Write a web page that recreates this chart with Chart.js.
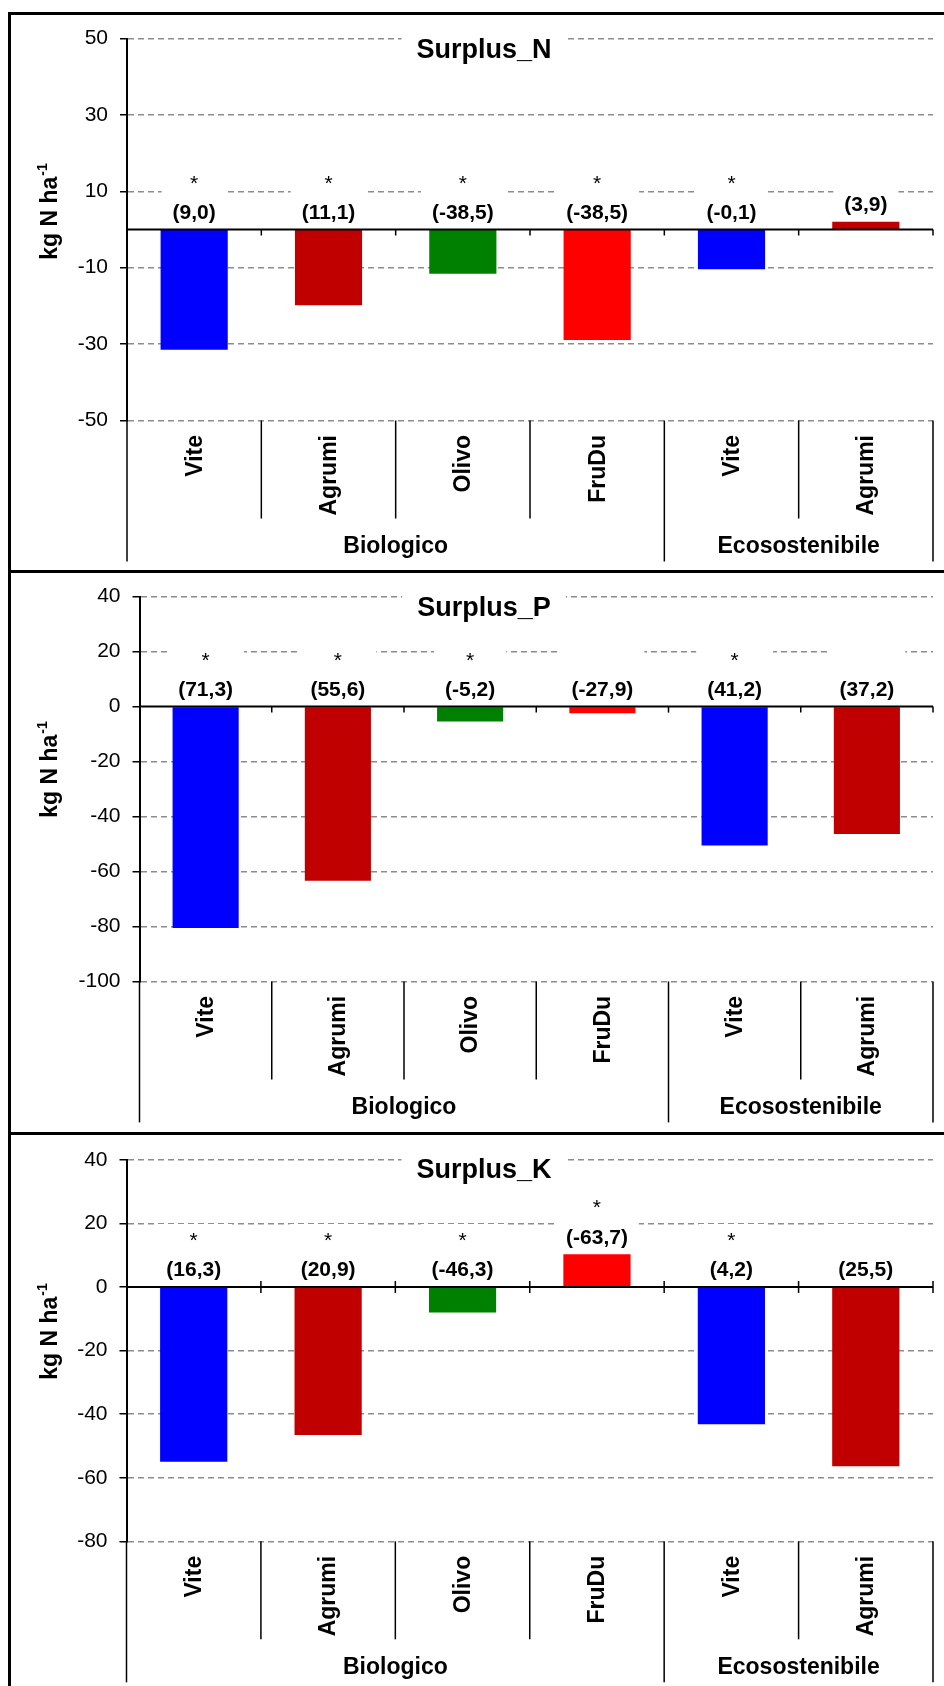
<!DOCTYPE html>
<html>
<head>
<meta charset="utf-8">
<title>Surplus N, P, K</title>
<script src="https://cdn.jsdelivr.net/npm/chart.js@4.4.1/dist/chart.umd.min.js"></script>
<style>
  html, body { margin: 0; padding: 0; background: #fff; overflow: hidden; }
  body { position: relative; width: 944px; height: 1686px; }
  .panel { position: absolute; left: 0; width: 944px; }
  .frame { position: absolute; left: 8px; width: 1000px; border: 3px solid #000; box-sizing: border-box; pointer-events: none; }
</style>
</head>
<body>
<canvas id="chartN" class="panel" width="944" height="558" style="top:13px"></canvas>
<canvas id="chartP" class="panel" width="944" height="562" style="top:571px"></canvas>
<canvas id="chartK" class="panel" width="944" height="553" style="top:1133px"></canvas>
<div class="frame" style="top:12px;height:561px"></div>
<div class="frame" style="top:570px;height:565px"></div>
<div class="frame" style="top:1132px;height:600px"></div>
<script>
const categories = ['Vite', 'Agrumi', 'Olivo', 'FruDu', 'Vite', 'Agrumi'];
const groups = ['Biologico', 'Ecosostenibile'];
const groupSizes = [4, 2];
const barColors = ['#0000FF', '#C00000', '#008000', '#FF0000', '#0000FF', '#C00000'];

const surplusN = [-31.5, -19.8, -11.6, -28.9, -10.4, 2.0];
const surplusP = [-80.6, -63.4, -5.4, -2.4, -50.5, -46.4];
const surplusK = [-55.0, -46.6, -8.0, 10.3, -43.2, -56.4];

const labelsN = ['(9,0)', '(11,1)', '(-38,5)', '(-38,5)', '(-0,1)', '(3,9)'];
const labelsP = ['(71,3)', '(55,6)', '(-5,2)', '(-27,9)', '(41,2)', '(37,2)'];
const labelsK = ['(16,3)', '(20,9)', '(-46,3)', '(-63,7)', '(4,2)', '(25,5)'];

const starsN = [true, true, true, true, true, false];
const starsP = [true, true, true, false, true, false];
const starsK = [true, true, true, true, true, false];

const ticksN = [-50, -30, -10, 10, 30, 50];
const ticksP = [-100, -80, -60, -40, -20, 0, 20, 40];
const ticksK = [-80, -60, -40, -20, 0, 20, 40];

const FONT = '"Liberation Sans", Arial, sans-serif';

// draws everything Excel puts around the bars: zero line, separators, labels, titles
const panelDecor = {
  id: 'panelDecor',
  beforeDatasetsDraw: function (chart, args, opts) {
    const ctx = chart.ctx;
    const x = chart.scales.x;
    const y = chart.scales.y;
    const zero = y.getPixelForValue(0);
    ctx.save();
    ctx.font = 'bold 21px ' + FONT;
    ctx.fillStyle = '#fff';
    opts.labels.forEach(function (text, i) {
      const xc = x.getPixelForValue(i);
      const top = Math.min(zero, y.getPixelForValue(opts.values[i]));
      const ly = top - 18;
      const w = ctx.measureText(text).width + 22;
      ctx.fillRect(xc - w / 2, ly - 45, w, 57);
    });
    ctx.restore();
  },
  afterDatasetsDraw: function (chart, args, opts) {
    const ctx = chart.ctx;
    const area = chart.chartArea;
    const x = chart.scales.x;
    const y = chart.scales.y;
    const zero = y.getPixelForValue(0);
    const step = x.getPixelForValue(1) - x.getPixelForValue(0);
    const bounds = [];
    for (let k = 0; k <= categories.length; k++) {
      bounds.push(x.getPixelForValue(0) - step / 2 + k * step);
    }
    const groupEdges = [0];
    groupSizes.forEach(function (n) { groupEdges.push(groupEdges[groupEdges.length - 1] + n); });

    ctx.save();
    ctx.strokeStyle = '#000';

    // zero line with its tick marks
    ctx.lineWidth = 2;
    ctx.beginPath();
    ctx.moveTo(area.left, zero);
    ctx.lineTo(area.right, zero);
    ctx.stroke();
    ctx.lineWidth = 1.5;
    for (let k = 1; k < bounds.length; k++) {
      ctx.beginPath();
      ctx.moveTo(bounds[k], opts.crossTicks ? zero - 6 : zero);
      ctx.lineTo(bounds[k], zero + 6);
      ctx.stroke();
    }

    // separators under the plot
    bounds.forEach(function (bx, k) {
      const len = groupEdges.indexOf(k) >= 0 ? 141 : 98;
      ctx.beginPath();
      ctx.moveTo(bx, area.bottom);
      ctx.lineTo(bx, area.bottom + len);
      ctx.stroke();
    });

    // value labels and stars
    ctx.fillStyle = '#000';
    ctx.textAlign = 'center';
    ctx.textBaseline = 'alphabetic';
    opts.labels.forEach(function (text, i) {
      const xc = x.getPixelForValue(i);
      const top = Math.min(zero, y.getPixelForValue(opts.values[i]));
      const ly = top - 18;
      ctx.font = 'bold 21px ' + FONT;
      ctx.fillText(text, xc, ly + 7.5);
      if (opts.stars[i]) {
        ctx.font = '21px ' + FONT;
        ctx.fillText('*', xc, ly - 34 + 12);
      }
    });

    // rotated category labels
    ctx.font = 'bold 23px ' + FONT;
    ctx.textAlign = 'right';
    ctx.textBaseline = 'middle';
    categories.forEach(function (name, i) {
      ctx.save();
      ctx.translate(x.getPixelForValue(i) + 1, area.bottom + 14.5);
      ctx.rotate(-Math.PI / 2);
      ctx.fillText(name, 0, 0);
      ctx.restore();
    });

    // group labels
    ctx.font = 'bold 23px ' + FONT;
    ctx.textAlign = 'center';
    groups.forEach(function (name, g) {
      const cx = (bounds[groupEdges[g]] + bounds[groupEdges[g + 1]]) / 2;
      ctx.fillText(name, cx, area.bottom + 126);
    });

    // y axis title with superscript
    ctx.save();
    ctx.translate(57, 199);
    ctx.rotate(-Math.PI / 2);
    ctx.textAlign = 'left';
    ctx.textBaseline = 'alphabetic';
    ctx.font = 'bold 23px ' + FONT;
    const main = 'kg N ha';
    const mainW = ctx.measureText(main).width;
    ctx.font = 'bold 14px ' + FONT;
    const supW = ctx.measureText('-1').width;
    const start = -(mainW + supW) / 2;
    ctx.font = 'bold 23px ' + FONT;
    ctx.fillText(main, start, 0);
    ctx.font = 'bold 14px ' + FONT;
    ctx.fillText('-1', start + mainW + 1, -10);
    ctx.restore();

    // chart title on a white box
    ctx.font = 'bold 27px ' + FONT;
    ctx.textAlign = 'center';
    ctx.textBaseline = 'alphabetic';
    const tw = ctx.measureText(opts.title).width + 30;
    ctx.fillStyle = '#fff';
    ctx.fillRect(484 - tw / 2, 18, tw, 36);
    ctx.fillStyle = '#000';
    ctx.fillText(opts.title, 484, 44.5);

    ctx.restore();
  }
};

function makePanel(canvasId, title, values, labels, stars, ticks, layout) {
  return new Chart(document.getElementById(canvasId), {
    type: 'bar',
    data: {
      labels: categories,
      datasets: [{
        data: values,
        backgroundColor: barColors,
        borderWidth: 0,
        barPercentage: 0.5,
        categoryPercentage: 1
      }]
    },
    options: {
      responsive: false,
      maintainAspectRatio: false,
      devicePixelRatio: 1,
      animation: false,
      layout: {
        padding: { top: layout.padTop, bottom: layout.padBottom, left: 0, right: 11 }
      },
      plugins: {
        legend: { display: false },
        tooltip: { enabled: false },
        panelDecor: {
          title: title,
          values: values,
          labels: labels,
          stars: stars,
          crossTicks: layout.crossTicks
        }
      },
      scales: {
        x: { display: false },
        y: {
          min: ticks[0],
          max: ticks[ticks.length - 1],
          afterBuildTicks: function (scale) {
            scale.ticks = ticks.map(function (v) { return { value: v }; });
          },
          afterFit: function (scale) {
            scale.width = layout.axisLeft;
          },
          ticks: {
            color: '#000',
            padding: 12,
            font: { family: FONT, size: 21 },
            callback: function (v) { return String(v); }
          },
          grid: {
            color: function (c) {
              return c.tick && c.tick.value === 0 ? 'rgba(0,0,0,0)' : '#8c8c8c';
            },
            lineWidth: 1.5,
            tickColor: '#000',
            tickLength: 7,
            tickWidth: 1.5,
            tickBorderDash: []
          },
          border: { display: true, color: '#000', width: 2, dash: [6, 4] }
        }
      }
    },
    plugins: [panelDecor]
  });
}

makePanel('chartN', 'Surplus_N', surplusN, labelsN, starsN, ticksN,
  { padTop: 25.5, padBottom: 150.5, axisLeft: 127, crossTicks: false });
makePanel('chartP', 'Surplus_P', surplusP, labelsP, starsP, ticksP,
  { padTop: 25.7, padBottom: 151.6, axisLeft: 139.5, crossTicks: false });
makePanel('chartK', 'Surplus_K', surplusK, labelsK, starsK, ticksK,
  { padTop: 26.8, padBottom: 144.7, axisLeft: 126.5, crossTicks: true });
</script>
</body>
</html>
